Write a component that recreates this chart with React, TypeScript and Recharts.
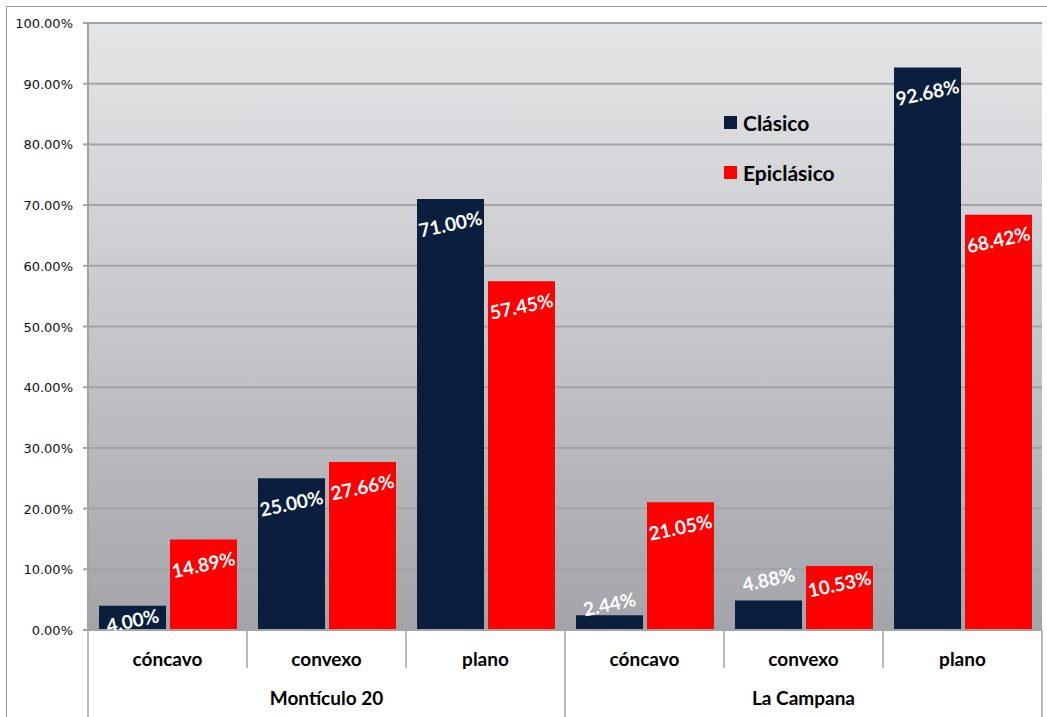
import React from "react"
import { BarChart, Bar, XAxis, YAxis, CartesianGrid, Legend, LabelList } from "recharts"

const categories = ["cóncavo", "convexo", "plano", "cóncavo", "convexo", "plano"]
const groups = ["Montículo 20", "La Campana"]
const clasico = [4.0, 25.0, 71.0, 2.44, 4.88, 92.68]
const epiclasico = [14.89, 27.66, 57.45, 21.05, 10.53, 68.42]
const yTicks = [0, 10, 20, 30, 40, 50, 60, 70, 80, 90, 100]

const data = categories.map((cat, i) => ({
  key: String(i),
  cat,
  group: groups[Math.floor(i / 3)],
  clasico: clasico[i],
  epiclasico: epiclasico[i],
}))

const CHART_W = 1040
const CHART_H = 710
const MARGIN = { top: 16, right: 5, left: 5, bottom: 0 }
const Y_W = 76
const X_H = 87
const BAND = (CHART_W - MARGIN.left - MARGIN.right - Y_W) / categories.length

const FONT = "Lato, 'Open Sans', sans-serif"
const NAVY = "#0a1f3d"
const RED = "#ff0000"
const LINE = "#a3a3a3"

// where the value labels sit, measured from the bar top (Excel moved a few by hand)
const LABEL_DOWN = 25
const labelShift: Record<string, number> = {
  "clasico-0": 15,
  "clasico-3": -11,
  "clasico-4": -21,
  "epiclasico-4": 18,
}

function CategoryTick(props: any) {
  const { x, y, payload } = props
  const i = Number(payload.value)
  const firstInGroup = i % 3 === 0
  const middle = i % 3 === 1
  const last = i === categories.length - 1
  return (
    <g>
      <line
        x1={x - BAND / 2}
        x2={x - BAND / 2}
        y1={y}
        y2={y + (firstInGroup ? X_H : 38)}
        stroke={LINE}
        strokeWidth={1.5}
      />
      {last && <line x1={x + BAND / 2} x2={x + BAND / 2} y1={y} y2={y + X_H} stroke={LINE} strokeWidth={1.5} />}
      <text x={x} y={y + 36} textAnchor="middle" fontFamily={FONT} fontWeight="bold" fontSize={19} fill="#000">
        {categories[i]}
      </text>
      {middle && (
        <text x={x} y={y + 75} textAnchor="middle" fontFamily={FONT} fontWeight="bold" fontSize={19} fill="#000">
          {groups[Math.floor(i / 3)]}
        </text>
      )}
    </g>
  )
}

function ValueTick(props: any) {
  const { x, y, payload } = props
  return (
    <text x={x} y={y} dy={5} textAnchor="end" fontFamily="'DejaVu Sans', sans-serif" fontSize={13} fill="#111">
      {Number(payload.value).toFixed(2)}%
    </text>
  )
}

function makeLabel(series: string) {
  return function RotLabel(props: any) {
    const { x, y, width, value, index } = props
    const cx = x + width / 2
    const shift = labelShift[`${series}-${index}`]
    const cy = y + (shift === undefined ? LABEL_DOWN : shift)
    return (
      <text
        x={cx}
        y={cy}
        dy={7}
        textAnchor="middle"
        fontFamily={FONT}
        fontWeight="bold"
        fontSize={19}
        fill="#fff"
        transform={`rotate(-12, ${cx}, ${cy})`}
      >
        {Number(value).toFixed(2)}%
      </text>
    )
  }
}

const ClasicoLabel = makeLabel("clasico")
const EpiclasicoLabel = makeLabel("epiclasico")

function LegendBox() {
  const items = [
    { name: "Clásico", color: NAVY },
    { name: "Epiclásico", color: RED },
  ]
  return (
    <div style={{ fontFamily: FONT, fontWeight: "bold", fontSize: 21, color: "#000" }}>
      {items.map((it, k) => (
        <div key={it.name} style={{ display: "flex", alignItems: "center", height: 25, marginBottom: k === 0 ? 25 : 0 }}>
          <span style={{ display: "inline-block", width: 13, height: 13, background: it.color, marginRight: 6 }} />
          {it.name}
        </div>
      ))}
    </div>
  )
}

export default function App() {
  return (
    <div
      style={{
        position: "absolute",
        left: 6,
        top: 6,
        width: CHART_W,
        height: CHART_H + 10,
        border: "1px solid #9a9a9a",
        background: "#fff",
      }}
    >
      <BarChart width={CHART_W} height={CHART_H} data={data} margin={MARGIN} barGap={4} barSize={67}>
        <defs>
          <linearGradient id="bg" x1="0" y1="0" x2="0" y2="1">
            <stop offset="0%" stopColor="#e4e5e7" />
            <stop offset="50%" stopColor="#c6c7ca" />
            <stop offset="100%" stopColor="#a3a4a9" />
          </linearGradient>
        </defs>
        <CartesianGrid vertical={false} stroke={LINE} strokeWidth={2} fill="url(#bg)" fillOpacity={1} />
        <XAxis
          dataKey="key"
          height={X_H}
          interval={0}
          tickSize={0}
          tickMargin={0}
          tickLine={false}
          axisLine={{ stroke: LINE, strokeWidth: 2 }}
          tick={<CategoryTick />}
        />
        <YAxis
          width={Y_W}
          domain={[0, 100]}
          ticks={yTicks}
          interval={0}
          tickSize={5}
          tickMargin={10}
          axisLine={{ stroke: LINE, strokeWidth: 2 }}
          tickLine={{ stroke: LINE, strokeWidth: 2 }}
          tick={<ValueTick />}
        />
        <Legend
          layout="vertical"
          align="center"
          verticalAlign="middle"
          content={() => <LegendBox />}
          wrapperStyle={{ left: 717, top: 103, width: 160 }}
        />
        <Bar dataKey="clasico" name="Clásico" fill={NAVY} isAnimationActive={false}>
          <LabelList dataKey="clasico" content={<ClasicoLabel />} />
        </Bar>
        <Bar dataKey="epiclasico" name="Epiclásico" fill={RED} isAnimationActive={false}>
          <LabelList dataKey="epiclasico" content={<EpiclasicoLabel />} />
        </Bar>
      </BarChart>
    </div>
  )
}
